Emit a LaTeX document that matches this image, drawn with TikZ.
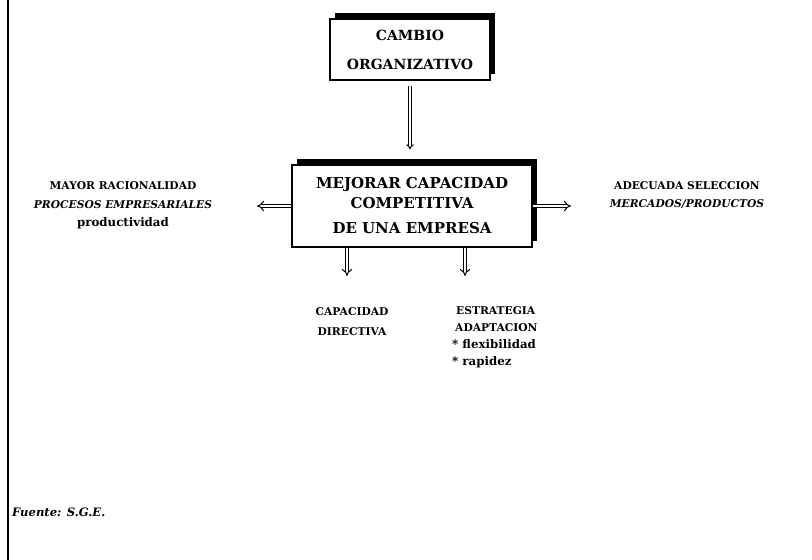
\documentclass[tikz,border=0pt]{standalone}
\usepackage{fontspec}
\setmainfont{DejaVu Serif}
\usetikzlibrary{arrows.meta,shadows}
\begin{document}
\begin{tikzpicture}[x=1pt,y=-1pt,
        cajon/.style={draw,line width=1.2pt,fill=white,align=center,drop shadow={shadow xshift=5pt,shadow yshift=6pt,fill=black,opacity=1}},
        etiqueta/.style={align=center,inner sep=0pt,font=\bfseries\fontsize{10.7}{18.5}\selectfont},
        hueca/.style={double,double distance=2.6pt,line width=1pt,-{Implies}}]
        \useasboundingbox (0,0) rectangle (812,560);
        \draw[line width=1.5pt] (8,0) -- (8,560);
        \node[cajon,minimum width=160pt,minimum height=61pt,font=\bfseries\fontsize{14}{29}\selectfont] (cambio) at (410,49.5) {CAMBIO\\ORGANIZATIVO};
        \node[cajon,minimum width=240pt,minimum height=82pt,font=\bfseries\fontsize{15}{20}\selectfont] (mejorar) at (412,206) {MEJORAR CAPACIDAD\\COMPETITIVA\\[5pt]DE UNA EMPRESA};
        \node[etiqueta] (racionalidad) at (123,205.5) {MAYOR RACIONALIDAD\\\textit{PROCESOS EMPRESARIALES}\\{\fontsize{11.8}{18.5}\selectfont productividad}};
        \node[etiqueta] (seleccion) at (687,195) {ADECUADA SELECCION\\\textit{MERCADOS/PRODUCTOS}};
        \node[etiqueta,font=\bfseries\fontsize{10.7}{20}\selectfont] (directiva) at (352,322) {CAPACIDAD\\DIRECTIVA};
        \node[etiqueta,align=left,anchor=north west,font=\bfseries\fontsize{10.7}{17}\selectfont] (estrategia) at (452,306) {\hspace*{4pt}ESTRATEGIA\\\hspace*{3pt}ADAPTACION\\{\fontsize{11.8}{17}\selectfont * flexibilidad}\\{\fontsize{11.8}{17}\selectfont * rapidez}};
        \node[etiqueta,anchor=west,font=\bfseries\itshape\fontsize{11.6}{12}\selectfont] (fuente) at (12,512) {Fuente: S.G.E.};
        \coordinate (izq) at (257,206);
        \coordinate (der) at (571,206);
        \coordinate (abajo1) at (347,276);
        \coordinate (abajo2) at (465,276);
        \draw[hueca,double distance=1.4pt,shorten <=5pt,shorten >=15pt] (cambio.south) -- (cambio.south |- mejorar.north);
        \draw[hueca] (mejorar.west) -- (izq);
        \draw[hueca] (mejorar.east) -- (der);
        \draw[hueca] (mejorar.south -| abajo1) -- (abajo1);
        \draw[hueca] (mejorar.south -| abajo2) -- (abajo2);
    \end{tikzpicture}
\end{document}
